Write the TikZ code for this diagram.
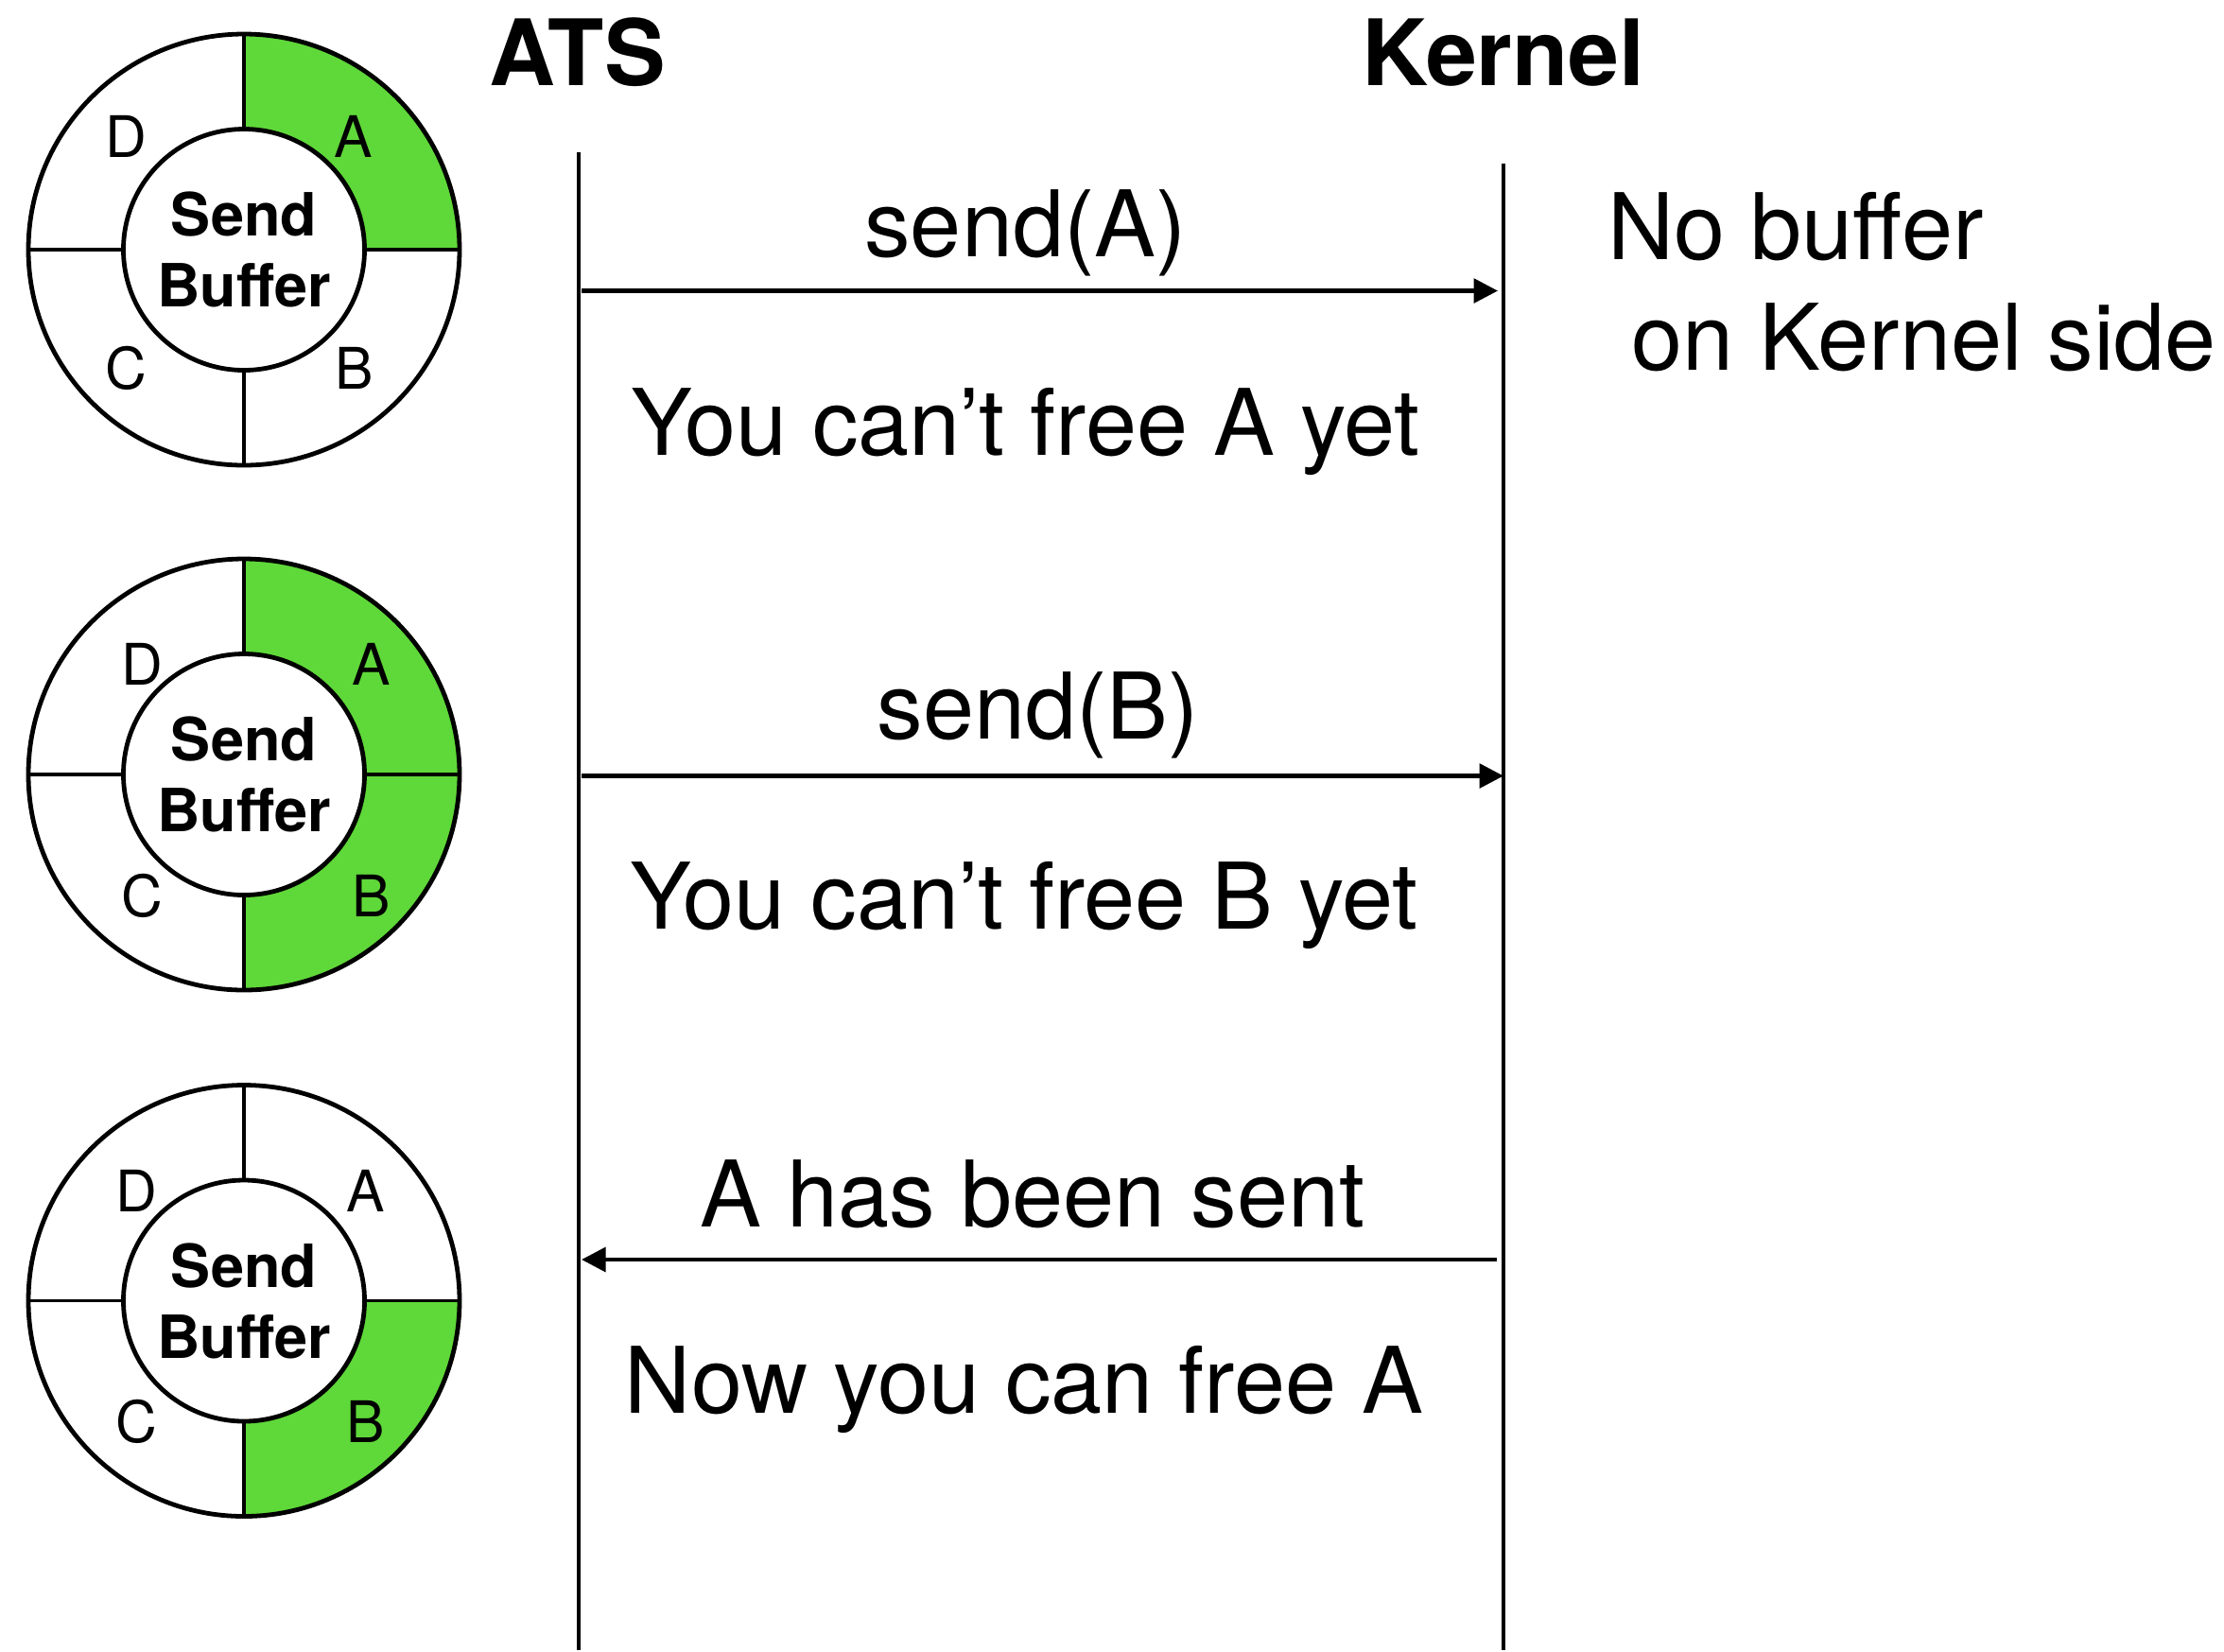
\documentclass[tikz,border=0pt]{standalone}
\usepackage{fontspec}
\setmainfont{TeX Gyre Heros}
\usetikzlibrary{arrows.meta}
\definecolor{bufgreen}{HTML}{5FD839}
\tikzset{
  ringline/.style={line width=1.6pt},
  divline/.style={line width=1.2pt},
  lifeline/.style={line width=1.6pt},
  msg/.style={line width=1.5pt, -{Triangle[length=8.5pt,width=8.5pt]}},
  bigtext/.style={font=\fontsize{32.4}{36}\selectfont, inner sep=0pt, anchor=base},
  headtext/.style={font=\fontsize{32.3}{36}\selectfont\bfseries, inner sep=0pt, anchor=base},
  seglabel/.style={font=\fontsize{20.2}{24}\selectfont, inner sep=0pt, anchor=base},
  buftext/.style={font=\fontsize{21}{26}\selectfont\bfseries, align=center}
}
\newcommand\sbring[5]{%
  \begin{scope}[shift={(#1,#2)}, x=0.5pt, y=0.5pt]
    \fill[#4] (0:152) arc[start angle=0,end angle=90,radius=152] -- (90:85)
      arc[start angle=90,end angle=0,radius=85] -- cycle;
    \fill[#5] (0:152) arc[start angle=0,end angle=-90,radius=152] -- (-90:85)
      arc[start angle=-90,end angle=0,radius=85] -- cycle;
    \node[circle, draw, ringline, minimum size=152pt, inner sep=0pt] (#3o) at (0,0) {};
    \node[circle, draw, ringline, minimum size=85pt, inner sep=0pt, buftext] (#3i) at (0,0) {Send\\[-1pt]Buffer};
    \draw[divline] (#3i.north) -- (#3o.north);
    \draw[divline] (#3i.south) -- (#3o.south);
    \draw[divline] (#3i.east) -- (#3o.east);
    \draw[divline] (#3i.west) -- (#3o.west);
  \end{scope}}
\begin{document}
\begin{tikzpicture}[x=0.5pt, y=-0.5pt]
\useasboundingbox (0,0) rectangle (1568,1164);
% rings
\sbring{172}{176}{ra}{bufgreen}{white}
\sbring{172}{546}{rb}{bufgreen}{bufgreen}
\sbring{172}{917}{rc}{white}{bufgreen}
% segment labels
\node[seglabel] (raD) at (89,111) {D};
\node[seglabel] (raA) at (249,111) {A};
\node[seglabel] (raC) at (89,274) {C};
\node[seglabel] (raB) at (250,274) {B};
\node[seglabel] (rbD) at (100,483) {D};
\node[seglabel] (rbA) at (262,483) {A};
\node[seglabel] (rbC) at (100,646) {C};
\node[seglabel] (rbB) at (262,646) {B};
\node[seglabel] (rcD) at (96,854) {D};
\node[seglabel] (rcA) at (258,854) {A};
\node[seglabel] (rcC) at (96,1017) {C};
\node[seglabel] (rcB) at (258,1017) {B};
% headers
\node[headtext] (ats) at (407,60) {ATS};
\node[headtext] (kernel) at (1060,60) {Kernel};
% lifelines
\coordinate (atsTop) at (408,107);
\coordinate (atsBot) at (408,1163);
\coordinate (kerTop) at (1060,115);
\coordinate (kerBot) at (1060,1163);
\draw[lifeline] (atsTop) -- (atsBot);
\draw[lifeline] (kerTop) -- (kerBot);
% messages
\coordinate (m1s) at (410,205);
\coordinate (m1e) at (1056,205);
\coordinate (m2s) at (410,547);
\coordinate (m2e) at (1060,547);
\coordinate (m3s) at (1055,888);
\coordinate (m3e) at (410,888);
\draw[msg] (m1s) -- (m1e);
\draw[msg] (m2s) -- (m2e);
\draw[msg] (m3s) -- (m3e);
% texts
\node[bigtext] (t1) at (723,181) {send(A)};
\node[bigtext] (t2) at (723,321) {You can’t free A yet};
\node[bigtext] (t3) at (732,521) {send(B)};
\node[bigtext] (t4) at (722,655) {You can’t free B yet};
\node[bigtext] (t5) at (728,865) {A has been sent};
\node[bigtext] (t6) at (722,996) {Now you can free A};
\node[bigtext, anchor=base west] (t7) at (1133,183) {No buffer};
\node[bigtext, anchor=base west] (t8) at (1150,261) {on Kernel side};
\end{tikzpicture}
\end{document}
